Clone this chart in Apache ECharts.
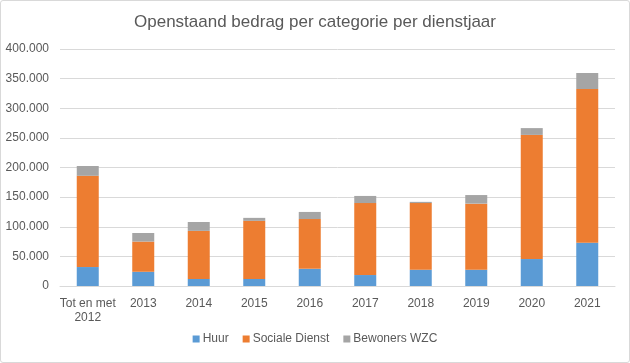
<!DOCTYPE html>
<html><head><meta charset="utf-8">
<script src="https://cdn.jsdelivr.net/npm/echarts@6/dist/echarts.min.js"></script>
<style>html,body{margin:0;padding:0;background:#fff}#c{width:628px;height:361px;border:1px solid #d9d9d9;border-radius:3px}</style>
</head><body><div id="c"></div>
<script>
const categories = ['Tot en met\n2012','2013','2014','2015','2016','2017','2018','2019','2020','2021'];
const huur = [32000, 24000, 12000, 12000, 29000, 18500, 27500, 27500, 45500, 73000];
const socialeDienst = [154000, 51000, 81000, 98000, 84000, 121500, 112500, 111500, 209500, 259500];
const bewonersWZC = [16500, 14500, 15000, 5000, 12000, 12000, 2000, 14500, 11500, 27000];
const seriesNames = ['Huur','Sociale Dienst','Bewoners WZC'];
const colors = ['#5b9bd5','#ed7d31','#a5a5a5'];
const fmt = v => v === 0 ? '0' : String(v).replace(/\B(?=(\d{3})+(?!\d))/g, '.');
const font = 'Liberation Sans, Arial, sans-serif';
const chart = echarts.init(document.getElementById('c'));
chart.setOption({
  animation: false,
  title: {text: 'Openstaand bedrag per categorie per dienstjaar', left: 'center', top: 8,
    textStyle: {fontFamily: font, fontSize: 17, fontWeight: 'normal', color: '#595959'}},
  legend: {bottom: 12, left: 'center', itemWidth: 7, itemHeight: 7, itemGap: 14, icon: 'rect',
    textStyle: {fontFamily: font, fontSize: 12, color: '#595959', padding: [0, 0, 0, -2]}},
  grid: {left: 59, right: 14, top: 48, bottom: 76},
  xAxis: {type: 'category', data: categories,
    axisLine: {lineStyle: {color: '#d9d9d9'}}, axisTick: {show: false},
    axisLabel: {fontFamily: font, fontSize: 12, color: '#595959', margin: 11, interval: 0, lineHeight: 14}},
  yAxis: {type: 'value', min: 0, max: 400000, interval: 50000,
    axisLine: {show: false}, axisTick: {show: false},
    splitLine: {lineStyle: {color: '#d9d9d9'}},
    axisLabel: {fontFamily: font, fontSize: 12, color: '#595959', formatter: fmt, margin: 11}},
  series: [huur, socialeDienst, bewonersWZC].map((d, i) => ({
    name: seriesNames[i], type: 'bar', stack: 'a', data: d, barWidth: 22,
    itemStyle: {color: colors[i]}
  }))
});
</script></body></html>
